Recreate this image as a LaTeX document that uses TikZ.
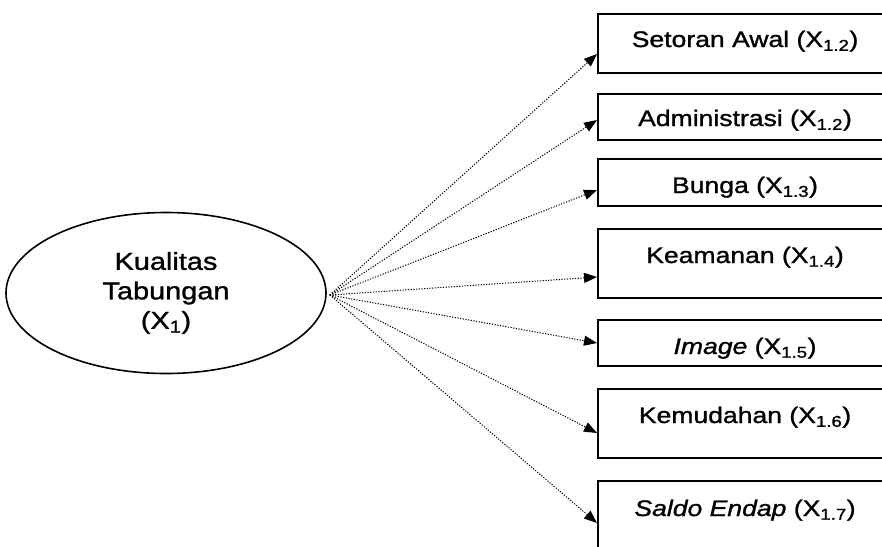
\documentclass[tikz,border=0pt]{standalone}
\usepackage{fontspec}
\setmainfont{Liberation Sans}[FakeStretch=1.18,FakeBold=1.2]
\usetikzlibrary{shapes.geometric,arrows.meta}
\begin{document}
\begin{tikzpicture}[x=1pt,y=-1pt,
  construct/.style={draw,line width=1.6pt,ellipse,minimum width=320pt,minimum height=161pt,
    inner sep=0pt,align=center,font=\fontsize{24.5}{29.5}\selectfont},
  indbox/.style={draw,line width=1.8pt,rectangle,minimum width=296pt,inner sep=0pt,anchor=north west},
  indtext/.style={anchor=base,inner sep=0pt,font=\fontsize{22.5}{27}\selectfont},
  loading/.style={line width=1pt,dash pattern=on 1.2pt off 1.5pt,
    -{Triangle[length=13pt,width=10pt]}}]
\clip (0,0) rectangle (882,546);
\fill[white] (0,0) rectangle (882,546);

% latent construct
\node[construct] (k) at (166,293) {Kualitas\\Tabungan\\(X\textsubscript{1})};

% indicator boxes (right side runs past the page edge)
\node[indbox,minimum height=59pt] (b1) at (597,13)  {};
\node[indbox,minimum height=46pt] (b2) at (597,93)  {};
\node[indbox,minimum height=47pt] (b3) at (597,158) {};
\node[indbox,minimum height=69pt] (b4) at (597,228) {};
\node[indbox,minimum height=46pt] (b5) at (597,319) {};
\node[indbox,minimum height=69pt] (b6) at (597,388) {};
\node[indbox,minimum height=72pt] (b7) at (597,480) {};

% indicator labels
\node[indtext] (l1) at (745,47)  {Setoran Awal (X\textsubscript{1.2})};
\node[indtext] (l2) at (745,126) {Administrasi (X\textsubscript{1.2})};
\node[indtext] (l3) at (745,193) {Bunga (X\textsubscript{1.3})};
\node[indtext] (l4) at (745,263) {Keamanan (X\textsubscript{1.4})};
\node[indtext] (l5) at (745,354) {\textit{Image} (X\textsubscript{1.5})};
\node[indtext] (l6) at (745,423) {Kemudahan (X\textsubscript{1.6})};
\node[indtext] (l7) at (745,516) {\textit{Saldo Endap} (X\textsubscript{1.7})};

% arrow tips on the left edges of the boxes
\coordinate (t1) at (597,54);
\coordinate (t2) at (597,120);
\coordinate (t3) at (597,190);
\coordinate (t4) at (597,277);
\coordinate (t5) at (597,343);
\coordinate (t6) at (597,433);
\coordinate (t7) at (597,523);

\coordinate (src) at ([xshift=3pt,yshift=-2pt]k.east);
\foreach \i in {1,...,7} \draw[loading] (src) -- (t\i);
\end{tikzpicture}
\end{document}
